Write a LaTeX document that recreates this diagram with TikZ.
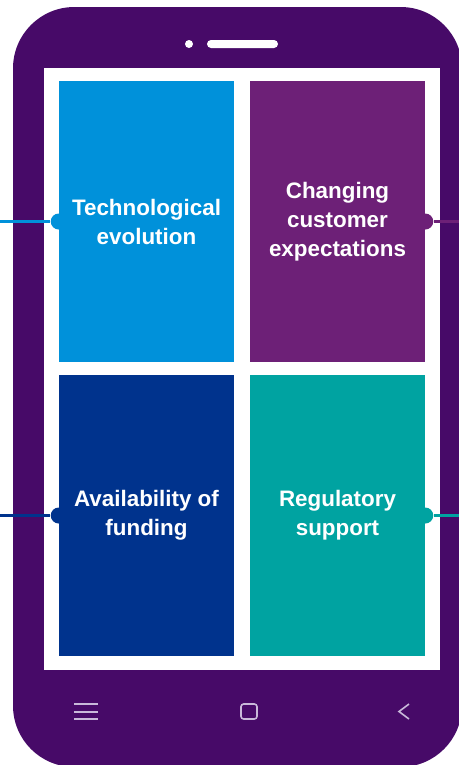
\documentclass[tikz,border=0pt]{standalone}
\usepackage{fontspec}
\setmainfont{Liberation Sans}
\usepackage{xcolor}
\usetikzlibrary{calc}

\definecolor{phonepurple}{HTML}{470A68}
\definecolor{kblue}{HTML}{0091DA}
\definecolor{kpurple}{HTML}{6D2077}
\definecolor{kdarkblue}{HTML}{00338D}
\definecolor{kteal}{HTML}{00A3A1}
\definecolor{iconlilac}{HTML}{C9B9DA}

\tikzset{
  tile/.style={rectangle, inner sep=0pt, minimum width=131.25pt, minimum height=210.75pt,
    text=white, align=center, font=\bfseries\fontsize{16.8}{21.75}\selectfont},
  dot/.style={circle, inner sep=0pt, minimum size=12pt},
  link/.style={line width=1.8pt},
  navicon/.style={draw=iconlilac, line width=1.2pt}
}

\begin{document}
\begin{tikzpicture}[x=0.75pt,y=-0.75pt]
\useasboundingbox (0,0) rectangle (459,765);
% PHONE BODY AND SCREEN
\fill[phonepurple, rounded corners=46pt] (13,7) rectangle (462,767);
\fill[white] (44,68) rectangle (440,670);
% speaker slot
\fill[white] (189,44) circle (4);
\fill[white, rounded corners=3pt] (207,40) rectangle (278,48);
% TILES
\node[tile, fill=kblue] (tech) at (146.5,221.5) {Technological\\evolution};
\node[tile, fill=kpurple] (cust) at (337.5,221.5) {Changing\\customer\\expectations};
\node[tile, fill=kdarkblue] (fund) at (146.5,515.5) {Availability of\\funding};
\node[tile, fill=kteal] (reg) at (337.5,515.5) {Regulatory\\support};
% CONNECTORS
\node[dot, fill=kblue] (techdot) at (tech.west) {};
\node[dot, fill=kpurple] (custdot) at (cust.east) {};
\node[dot, fill=kdarkblue] (funddot) at (fund.west) {};
\node[dot, fill=kteal] (regdot) at (reg.east) {};
\coordinate (techend) at (0,221.5);
\coordinate (custend) at (462,221.5);
\coordinate (fundend) at (0,515.5);
\coordinate (regend) at (462,515.5);
\draw[link, kblue] (techend) -- (techdot);
\draw[link, kpurple] (custdot) -- (custend);
\draw[link, kdarkblue] (fundend) -- (funddot);
\draw[link, kteal] (regdot) -- (regend);
% NAVIGATION BAR
\foreach \y in {704,712,719}
  \draw[navicon] (74,\y) -- (98,\y);
\draw[navicon, rounded corners=2pt] (241,704) rectangle (257,719);
\draw[navicon] (409,704) -- (399,711.5) -- (409,719);
\end{tikzpicture}
\end{document}
